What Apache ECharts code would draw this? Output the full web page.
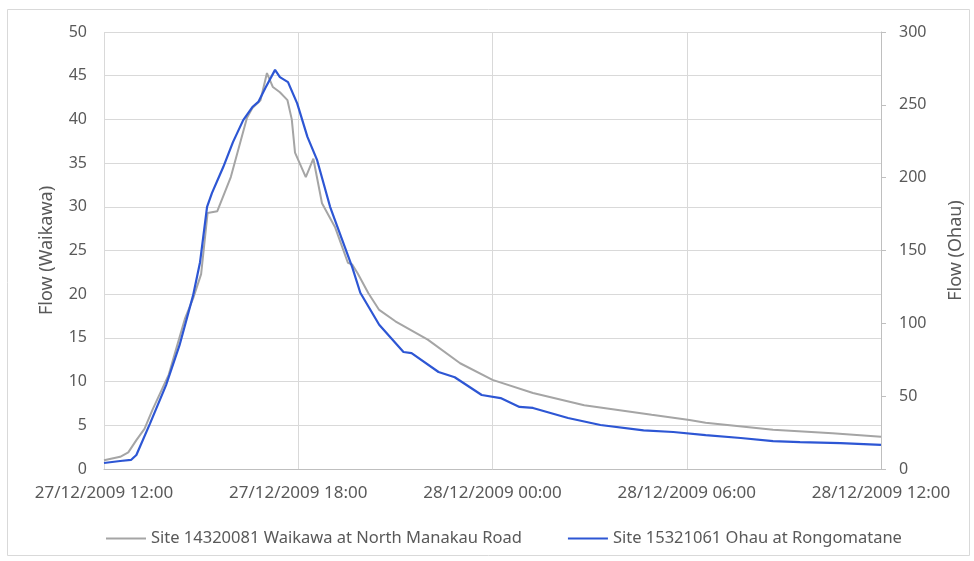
<!DOCTYPE html>
<html><head><meta charset="utf-8">
<script src="https://cdn.jsdelivr.net/npm/echarts@6/dist/echarts.min.js"></script>
<style>html,body{margin:0;padding:0;background:#fff}#c{width:974px;height:561px}</style>
</head><body><div id="c"></div>
<script>
const tickLabels = ['27/12/2009 12:00','27/12/2009 18:00','28/12/2009 00:00','28/12/2009 06:00','28/12/2009 12:00'];
const seriesNames = ['Site 14320081 Waikawa at North Manakau Road','Site 15321061 Ohau at Rongomatane'];

const waikawaTimes = ['27 12:00','27 12:30','27 12:45','27 13:00','27 13:15','27 13:30','27 13:45','27 14:00','27 14:15','27 14:30','27 14:45','27 15:00','27 15:12','27 15:30','27 15:55','27 16:25','27 16:35','27 16:50','27 17:02','27 17:13','27 17:26','27 17:40','27 17:48','27 17:54','27 18:14','27 18:28','27 18:44','27 19:08','27 19:32','27 19:40','27 19:50','27 20:10','27 20:30','27 21:00','27 22:00','27 23:00','28 00:00','28 01:15','28 02:50','28 04:55','28 06:05','28 06:35','28 08:40','28 10:30','28 12:00'];
const waikawaFlow = [1.0,1.4,1.9,3.3,4.6,6.8,8.8,10.8,14.0,17.2,19.5,22.3,29.3,29.5,33.4,40.2,41.3,42.2,45.3,43.7,43.1,42.2,40.0,36.2,33.4,35.5,30.4,27.7,23.6,23.4,22.4,20.1,18.2,16.9,14.8,12.1,10.2,8.7,7.3,6.2,5.6,5.3,4.5,4.1,3.7];

const ohauTimes = ['27 12:00','27 12:30','27 12:50','27 13:00','27 13:25','27 13:55','27 14:20','27 14:45','27 14:58','27 15:11','27 15:20','27 15:41','27 15:59','27 16:18','27 16:35','27 16:46','27 16:59','27 17:17','27 17:26','27 17:41','27 17:58','27 18:17','27 18:35','27 18:59','27 19:40','27 19:55','27 20:30','27 21:15','27 21:30','27 22:20','27 22:50','27 23:40','28 00:15','28 00:50','28 01:15','28 02:20','28 03:20','28 04:40','28 05:35','28 06:35','28 07:40','28 08:40','28 09:30','28 10:45','28 12:00'];
const ohauFlow = [4.1,5.5,6.2,9.6,31,57.6,85,119,142,180,189.4,207.3,224.4,239.5,248.5,252,261.5,274,269,265.6,251,228,212,180,138.6,121,99,80.3,79.6,66.6,63,50.8,48.7,42.6,41.9,35,30.2,26.5,25.4,23.3,21.3,19.2,18.5,17.8,16.5];

function hoursSinceStart(t){
  const [d, hm] = t.split(' ');
  const [h, m] = hm.split(':').map(Number);
  return (Number(d) - 27) * 24 + h + m / 60 - 12;
}
function pairs(times, vals){ return times.map((t,i)=>[hoursSinceStart(t), vals[i]]); }

const txt = '#595959', grid = '#d9d9d9', axisC = '#bfbfbf';
const font = 'Noto Sans';
const chart = echarts.init(document.getElementById('c'));
chart.setOption({
  animation:false,
  backgroundColor:'#fff',
  textStyle:{fontFamily:font},
  graphic:[{type:'rect',shape:{x:7.5,y:9.5,width:962,height:546},style:{fill:'none',stroke:'#d9d9d9',lineWidth:1},silent:true}],
  grid:{left:104,right:93,top:32,bottom:92,containLabel:false},
  legend:{top:525,left:101,itemWidth:40,itemHeight:2,itemGap:46,
    icon:'rect',
    textStyle:{color:txt,fontSize:16.5,fontFamily:font},
    data:seriesNames},
  xAxis:{type:'value',min:0,max:24,interval:6,
    axisLine:{show:true,lineStyle:{color:axisC}},
    axisTick:{show:false},
    splitLine:{show:true,lineStyle:{color:grid}},
    axisLabel:{color:txt,fontSize:17,margin:16,formatter:v=>tickLabels[Math.round(v/6)]}},
  yAxis:[
    {type:'value',min:0,max:50,interval:5,position:'left',
     name:'Flow (Waikawa)',nameLocation:'middle',nameGap:48,nameRotate:90,
     nameTextStyle:{color:txt,fontSize:18},
     axisLine:{show:false},axisTick:{show:false},
     splitLine:{show:true,lineStyle:{color:grid}},
     axisLabel:{color:txt,fontSize:16,margin:17}},
    {type:'value',min:0,max:300,interval:50,position:'right',
     name:'Flow (Ohau)',nameLocation:'middle',nameGap:66,nameRotate:90,
     nameTextStyle:{color:txt,fontSize:18},
     axisLine:{show:true,lineStyle:{color:axisC}},
     axisTick:{show:true,length:5,lineStyle:{color:axisC}},
     splitLine:{show:false},
     axisLabel:{color:txt,fontSize:16,margin:18}}
  ],
  series:[
    {name:seriesNames[0],type:'line',yAxisIndex:0,data:pairs(waikawaTimes,waikawaFlow),
     showSymbol:false,lineStyle:{color:'#a5a5a5',width:2},itemStyle:{color:'#a5a5a5'}},
    {name:seriesNames[1],type:'line',yAxisIndex:1,data:pairs(ohauTimes,ohauFlow),
     showSymbol:false,lineStyle:{color:'#2d56d4',width:2.2},itemStyle:{color:'#2d56d4'}}
  ]
});
</script></body></html>
